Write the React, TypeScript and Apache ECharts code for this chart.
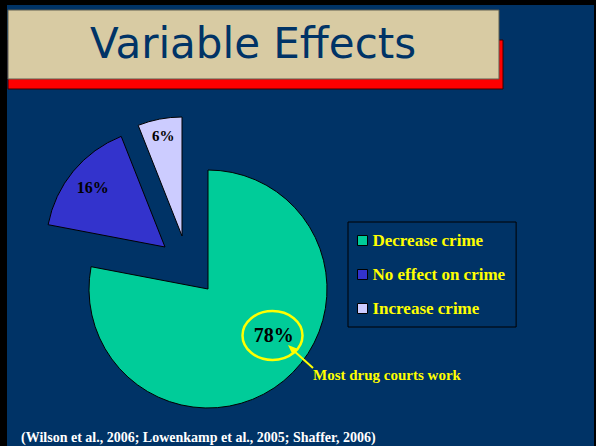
import React, { useEffect, useRef } from "react";
import * as echarts from "echarts";

const TITLE = "Variable Effects";
const CATEGORIES = ["Decrease crime", "No effect on crime", "Increase crime"];
const VALUES = [78, 16, 6];
const ANNOTATION = "Most drug courts work";
const SOURCE = "(Wilson et al., 2006; Lowenkamp et al., 2005; Shaffer, 2006)";

// each slice drawn by its own pie series so exploded slices can be shifted
const SLICE_CENTERS: [number, number][] = [
  [208, 289],
  [165, 247],
  [182, 236],
];
const COLORS = ["#00CC99", "#3333CC", "#CCCCFF"];
const LABEL_SIZES = [20, 16, 15];
const LABEL_SHIFT: [number, number][] = [
  [26, -2],
  [-24, -20],
  [-7, -39],
];

const SERIF = "'Liberation Serif', 'Times New Roman', serif";
const YELLOW = "#FFFF00";

export default function App() {
  const ref = useRef<HTMLDivElement>(null);

  useEffect(() => {
    if (!ref.current) return;
    const chart = echarts.init(ref.current, undefined, { renderer: "svg" });

    const series = CATEGORIES.map((_, s) => ({
      type: "pie",
      center: SLICE_CENTERS[s],
      radius: [0, 119],
      startAngle: 90,
      clockwise: true,
      avoidLabelOverlap: false,
      silent: true,
      emphasis: { disabled: true },
      label: {
        show: true,
        position: "inside",
        formatter: "{c}%",
        color: "#000",
        fontFamily: SERIF,
        fontWeight: "bold",
      },
      labelLine: { show: false },
      labelLayout: {
        dx: LABEL_SHIFT[s][0],
        dy: LABEL_SHIFT[s][1],
      },
      data: CATEGORIES.map((name, i) =>
        i === s
          ? {
              name,
              value: VALUES[i],
              itemStyle: { color: COLORS[i], borderColor: "#000", borderWidth: 1 },
              label: { show: true, fontSize: LABEL_SIZES[i] },
            }
          : {
              name,
              value: VALUES[i],
              itemStyle: { color: "transparent", borderWidth: 0 },
              label: { show: false },
            }
      ),
    }));

    const option: any = {
      animation: false,
      backgroundColor: "transparent",
      legend: {
        orient: "vertical",
        left: 348,
        top: 222,
        padding: [10, 11, 10, 9],
        itemWidth: 10,
        itemHeight: 10,
        itemGap: 17,
        borderColor: "#000",
        borderWidth: 1,
        selectedMode: false,
        icon: "rect",
        data: CATEGORIES.map((name, i) => ({
          name,
          itemStyle: { color: COLORS[i], borderColor: "#000", borderWidth: 1 },
        })),
        textStyle: {
          color: YELLOW,
          fontFamily: SERIF,
          fontWeight: "bold",
          fontSize: 17,
        },
      },
      graphic: [
        {
          type: "rect",
          silent: true,
          z: -10,
          shape: { x: 7, y: 5, width: 587, height: 441 },
          style: { fill: "#003366" },
        },
        {
          type: "rect",
          silent: true,
          z: -9,
          shape: { x: 8, y: 40, width: 495, height: 49 },
          style: { fill: "#FF0000", stroke: "#3a0000", lineWidth: 1 },
        },
        {
          type: "rect",
          silent: true,
          z: -8,
          shape: { x: 8, y: 10, width: 491, height: 69 },
          style: { fill: "#D8CBA3", stroke: "#5f5f50", lineWidth: 1 },
        },
        {
          type: "text",
          silent: true,
          z: 5,
          x: 253,
          y: 43,
          style: {
            text: TITLE,
            fill: "#003366",
            font: "42px 'DejaVu Sans', sans-serif",
            textAlign: "center",
            textVerticalAlign: "middle",
          },
        },
        {
          type: "ellipse",
          silent: true,
          z: 20,
          shape: { cx: 272.5, cy: 335.5, rx: 30, ry: 24.5 },
          style: { fill: "none", stroke: YELLOW, lineWidth: 2.5 },
        },
        {
          type: "line",
          silent: true,
          z: 20,
          shape: { x1: 313, y1: 368, x2: 293, y2: 350 },
          style: { stroke: YELLOW, lineWidth: 2 },
        },
        {
          type: "polygon",
          silent: true,
          z: 20,
          shape: {
            points: [
              [288, 345],
              [297, 348.5],
              [292.2, 353.7],
            ],
          },
          style: { fill: YELLOW },
        },
        {
          type: "text",
          silent: true,
          z: 20,
          x: 313,
          y: 375,
          style: {
            text: ANNOTATION,
            fill: YELLOW,
            font: `bold 15px ${SERIF}`,
            textAlign: "left",
            textVerticalAlign: "middle",
          },
        },
        {
          type: "text",
          silent: true,
          z: 20,
          x: 21,
          y: 437,
          style: {
            text: SOURCE,
            fill: "#FFFFFF",
            font: `bold 14px ${SERIF}`,
            textAlign: "left",
            textVerticalAlign: "middle",
          },
        },
      ],
      series,
    };

    chart.setOption(option);
    return () => chart.dispose();
  }, []);

  return (
    <div
      ref={ref}
      style={{
        position: "absolute",
        left: 0,
        top: 0,
        width: 596,
        height: 446,
        background: "#000",
      }}
    />
  );
}
